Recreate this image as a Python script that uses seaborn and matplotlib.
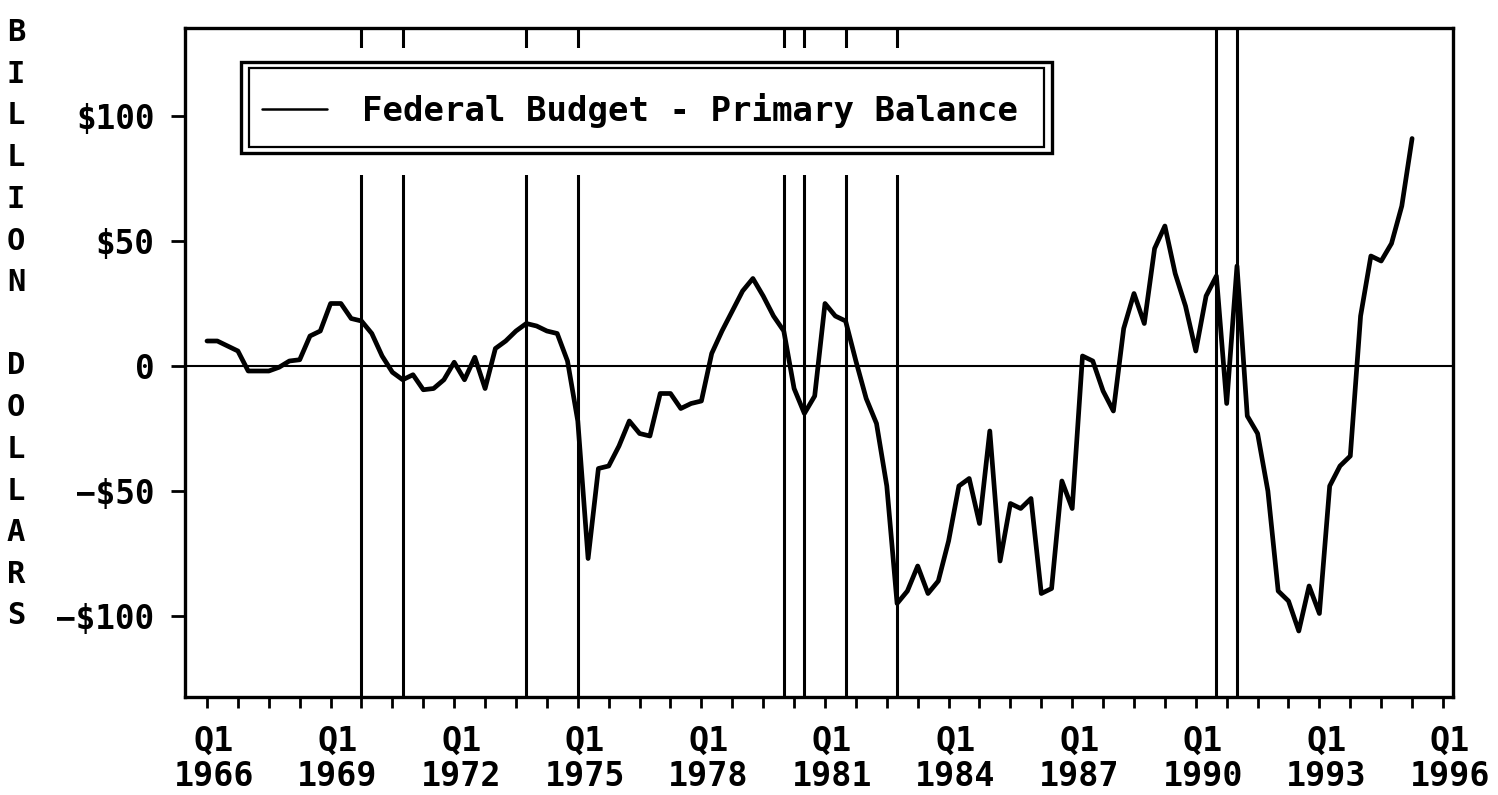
import numpy as np
import pandas as pd
import matplotlib
matplotlib.use("Agg")
import matplotlib.pyplot as plt
import seaborn as sns
from matplotlib.patches import Rectangle
from matplotlib.transforms import ScaledTranslation, blended_transform_factory
from matplotlib.font_manager import FontProperties

# ---------------- data ----------------
first_quarter = 1966.0  # Q1 1966, quarterly observations
balance = [10, 10, 8, 6, -2, -2, -2, -0.5, 2, 2.5,
           12, 14, 25, 25, 19, 18, 13, 4, -2.5, -5.5,
           -3.5, -9.5, -9, -5.5, 1.5, -5.5, 3.5, -9, 7, 10,
           14, 17, 16, 14, 13, 2, -22, -77, -41, -40,
           -32, -22, -27, -28, -11, -11, -17, -15, -14, 5,
           14, 22, 30, 35, 28, 20, 14, -9, -19, -12,
           25, 20, 18, 2, -13, -23, -48, -95, -90, -80,
           -91, -86, -70, -48, -45, -63, -26, -78, -55, -57,
           -53, -91, -89, -46, -57, 4, 2, -10, -18, 15,
           29, 17, 47, 56, 37, 24, 6, 28, 36, -15,
           40, -20, -27, -50, -90, -94, -106, -88, -99, -48,
           -40, -36, 20, 44, 42, 49, 64, 91]
recession_dates = [1969.75, 1970.75, 1973.75, 1975.0, 1980.0,
                   1980.5, 1981.5, 1982.75, 1990.5, 1991.0]
series_label = "Federal Budget - Primary Balance"
x_tick_years = [1966, 1969, 1972, 1975, 1978, 1981, 1984, 1987, 1990, 1993, 1996]
x_tick_labels = [f"Q1\n{y}" for y in x_tick_years]
y_tick_values = [-100, -50, 0, 50, 100]
y_tick_labels = ["\u2212$100", "\u2212$50", "0", "$50", "$100"]
y_axis_letters = list("BILLION") + [" "] + list("DOLLARS")

# ---------------- style ----------------
sns.set_style("white")
plt.rcParams["font.family"] = ["DejaVu Sans Mono", "DejaVu Sans"]
plt.rcParams["font.weight"] = "bold"
plt.rcParams["text.color"] = "black"
plt.rcParams["xtick.color"] = "black"
plt.rcParams["ytick.color"] = "black"
plt.rcParams["xtick.labelcolor"] = "black"
plt.rcParams["ytick.labelcolor"] = "black"

W, H = 1498, 795
fig = plt.figure(figsize=(W / 100, H / 100), dpi=100)
ax = fig.add_axes([185 / W, 1 - 697 / H, 1268 / W, 669 / H])

quarters = first_quarter + 0.25 * np.arange(len(balance))
df = pd.DataFrame({"t": quarters, "v": balance})
sns.lineplot(data=df, x="t", y="v", ax=ax, color="black", linewidth=3.4,
             label=series_label, zorder=5)

ax.axhline(0, color="black", lw=1.5, zorder=2)
for r in recession_dates:
    ax.axvline(r, color="black", lw=2.2, zorder=2)

ax.set_xlim(1965.466, 1996.243)
ax.set_ylim(-132.4, 135.2)

# white area behind legend (interrupts recession lines)
ax.add_patch(Rectangle((0.03, 0.780), 0.67, 0.19, transform=ax.transAxes,
                       facecolor="white", edgecolor="none", zorder=3))
# double frame of the legend
ax.add_patch(Rectangle((0.0442, 0.8132), 0.6838 - 0.0442, 0.9492 - 0.8132,
                       transform=ax.transAxes, fill=False, edgecolor="black",
                       lw=2.4, zorder=4))
ax.add_patch(Rectangle((0.0505, 0.8221), 0.6774 - 0.0505, 0.9402 - 0.8221,
                       transform=ax.transAxes, fill=False, edgecolor="black",
                       lw=1.6, zorder=4))

leg = ax.legend(loc="center left", bbox_to_anchor=(0.0607, 0.877),
                frameon=False, borderpad=0, borderaxespad=0,
                handlelength=1.9, handletextpad=1.05,
                prop=FontProperties(family="DejaVu Sans Mono", weight="bold", size=24.5))
leg.set_zorder(6)
for ln in leg.get_lines():
    ln.set_linewidth(1.8)
for t in leg.get_texts():
    t.set_color("black")

# ticks
ax.set_xticks(x_tick_years)
ax.set_xticklabels(x_tick_labels, fontsize=24, fontweight="bold", linespacing=1.1,
                   color="black")
ax.set_xticks(np.arange(x_tick_years[0], x_tick_years[-1] + 0.01, 0.75), minor=True)
ax.set_yticks(y_tick_values)
ax.set_yticklabels(y_tick_labels, fontsize=23.5, fontweight="bold", color="black")
ax.tick_params(axis="x", which="both", direction="out", length=8, width=2,
               bottom=True, pad=12, color="black")
ax.tick_params(axis="y", which="both", direction="out", length=10, width=2,
               left=True, pad=12, color="black")
for lbl in ax.get_xticklabels():
    lbl.set_transform(lbl.get_transform() + ScaledTranslation(0.07, 0, fig.dpi_scale_trans))

ax.set_xlabel("")
ax.set_ylabel("")
for s in ax.spines.values():
    s.set_visible(True)
    s.set_color("black")
    s.set_linewidth(2.4)

# vertical letter-stack axis title
trans = blended_transform_factory(fig.transFigure, ax.transData)
step = 100 / 6
for i, ch in enumerate(y_axis_letters):
    ax.text(16 / W, 100 + (2 - i) * step, ch, transform=trans, ha="center", va="center",
            fontsize=22, fontweight="bold", family="DejaVu Sans Mono", color="black",
            clip_on=False)

fig.savefig("out.png", dpi=100, facecolor="white")
